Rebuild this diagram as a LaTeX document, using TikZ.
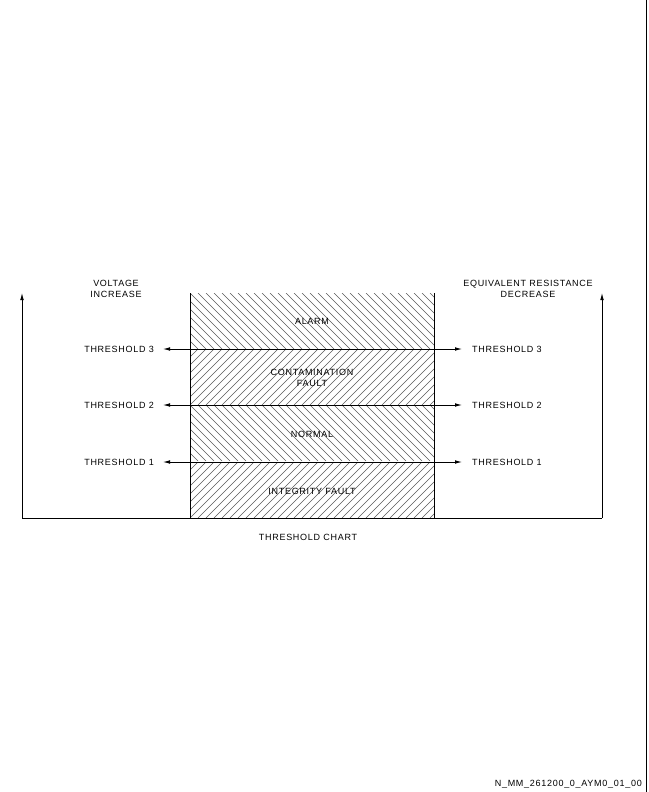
\documentclass[tikz,border=0pt]{standalone}
\usepackage{fontspec}
\setmainfont[LetterSpace=8]{Liberation Sans}
\usetikzlibrary{arrows.meta,positioning}

\begin{document}
\begin{tikzpicture}[x=1pt,y=-1pt,
   lbl/.style={font=\fontsize{9}{11.5}\selectfont, inner sep=1pt, align=center},
   arr/.style={-{Latex[length=7pt,width=3.6pt]}, line width=0.8pt},
   frame/.style={line width=0.9pt},
   hatch/.style={black!65, line width=0.5pt}]
   \useasboundingbox (0,0) rectangle (648,792);
   \draw[frame] (646,0) -- (646,792);

   % hatched bands, chevron style
   \foreach \top/\bot in {293/349, 405/462} {
     \begin{scope}
       \clip (190,\top) rectangle (434,\bot);
       \foreach \x in {126,134,...,434} \draw[hatch] (\x,\top) -- ++(56,56);
     \end{scope}}
   \foreach \top/\bot in {349/405, 462/518} {
     \begin{scope}
       \clip (190,\top) rectangle (434,\bot);
       \foreach \x in {126,134,...,434} \draw[hatch] (\x,\bot) -- ++(57,-57);
     \end{scope}}

   \coordinate (o_l) at (22,518);
   \coordinate (o_r) at (602,518);
   \coordinate (top_l) at (22,293);
   \coordinate (top_r) at (602,293);
   \coordinate (box_bl) at (190,518);
   \coordinate (box_tl) at (190,293);
   \coordinate (box_br) at (434,518);
   \coordinate (box_tr) at (434,293);

   \draw[frame] (box_bl) -- (box_tl);
   \draw[frame] (box_br) -- (box_tr);
   \draw[frame] (o_l) -- (o_r);
   \draw[arr] (o_l) -- (top_l);
   \draw[arr] (o_r) -- (top_r);

   \node[lbl] (alarm) at (312,321) {ALARM};
   \node[lbl] (contam) at (312,378) {CONTAMINATION\\FAULT};
   \node[lbl] (normal) at (312,434) {NORMAL};
   \node[lbl] (integ) at (312,491) {INTEGRITY FAULT};

   % threshold lines and arrows
   \foreach \n/\y in {3/349, 2/405, 1/462} {
     \coordinate (th\n_l) at (190,\y);
     \coordinate (th\n_r) at (434,\y);
     \coordinate (tip\n_l) at (163,\y);
     \coordinate (tip\n_r) at (462,\y);
     \draw[line width=0.8pt] (th\n_l) -- (th\n_r);
     \draw[arr] (th\n_l) -- (tip\n_l);
     \draw[arr] (th\n_r) -- (tip\n_r);
     \node[lbl, left=8pt of tip\n_l] (thr\n_l) {THRESHOLD \n};
     \node[lbl, right=9pt of tip\n_r] (thr\n_r) {THRESHOLD \n};
   }

   \node[lbl] (volt) at (116,289) {VOLTAGE\\INCREASE};
   \node[lbl] (resist) at (528,289) {EQUIVALENT RESISTANCE\\DECREASE};
   \node[lbl] (chart) at (308,537) {THRESHOLD CHART};
   \node[lbl, anchor=east] (ref) at (643,784) {N\_MM\_261200\_0\_AYM0\_01\_00};
\end{tikzpicture}
\end{document}
